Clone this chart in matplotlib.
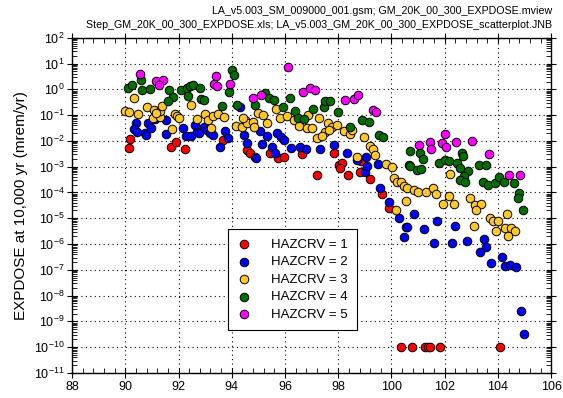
import matplotlib
matplotlib.use('Agg')
import matplotlib.pyplot as plt
from matplotlib.ticker import LogLocator, MultipleLocator, NullFormatter

plt.rcParams['font.family'] = ['Liberation Sans', 'DejaVu Sans']
plt.rcParams['mathtext.fontset'] = 'custom'
plt.rcParams['mathtext.rm'] = 'Liberation Sans'

# HAZCRV = 1
x1 = [90.18, 90.14, 91.71, 91.91, 92.25, 93.67, 94.57, 94.69, 94.88, 95.44, 95.72,
      95.98, 96.63, 97.20, 97.85, 98.01, 98.14, 98.05, 98.36, 98.80, 98.85, 99.20,
      99.66, 99.89, 100.36, 100.78, 101.27, 101.36, 101.43, 101.81, 104.09]
y1 = [1.2e-2, 5.2e-3, 5.8e-3, 8.7e-3, 4.9e-3, 1.1e-2, 4.5e-3, 3.4e-3, 2.3e-3, 3.5e-3, 2.1e-3,
      2.3e-3, 3.2e-3, 4.8e-4, 3.4e-3, 1.2e-3, 1.4e-3, 8.7e-4, 4.6e-4, 6.5e-4, 1.6e-3, 3.3e-4,
      8.9e-5, 2.5e-5, 1e-10, 1e-10, 1e-10, 1e-10, 1e-10, 1e-10, 1e-10]

# HAZCRV = 2
x2 = [90.41, 90.31, 90.43, 90.74, 90.78, 90.87, 90.96, 91.12, 91.53, 91.53, 92.16,
      92.29, 92.46, 92.62, 92.69, 92.77, 92.94, 93.06, 93.19, 93.31, 93.75, 93.84,
      93.54, 94.47, 94.59, 94.32, 95.07, 95.32, 95.15, 95.70, 95.85, 95.98, 95.53,
      95.61, 96.23, 96.55, 96.79, 97.32, 97.85, 98.33, 99.05, 94.92, 98.70, 98.99,
      99.08, 99.48, 99.58, 99.92, 100.27, 100.56, 100.47, 100.86, 101.71, 100.58,
      101.23, 102.38, 101.61, 102.27, 102.84, 103.49, 103.55, 103.31, 103.75,
      104.15, 104.25, 104.47, 104.68, 104.87, 104.99]
y2 = [4.9e-2, 2.9e-2, 2.3e-2, 2.1e-2, 1.7e-2, 5.1e-2, 3.1e-2, 6.9e-2, 6.6e-2, 1.8e-2, 3.3e-2,
      1.5e-2, 1.5e-2, 4.2e-2, 2.3e-2, 2.1e-2, 3.6e-2, 2.7e-2, 2.0e-2, 1.7e-2, 2.5e-2, 1.3e-2,
      5.8e-3, 1.7e-2, 8.1e-3, 2.1e-1, 2.5e-2, 1.6e-2, 7.8e-3, 2.1e-2, 1.4e-2, 1.1e-2, 6.0e-3,
      3.5e-3, 5.2e-3, 5.8e-3, 4.8e-3, 4.8e-3, 7.1e-3, 3.4e-3, 2.3e-3, 2.1e-3, 1.9e-3, 6.2e-4,
      1.1e-3, 1.3e-3, 1.5e-4, 4.1e-5, 1.0e-5, 4.5e-6, 1.9e-6, 1.5e-5, 8.1e-6, 4.4e-6,
      3.8e-6, 5.0e-6, 1.1e-6, 1.1e-6, 1.3e-6, 1.5e-6, 7.6e-7, 4.8e-7, 1.8e-7,
      3.2e-7, 1.4e-7, 1.5e-7, 1.3e-7, 2.6e-9, 3.2e-10]

# HAZCRV = 3
x3 = [90.31, 90.00, 90.15, 90.49, 90.81, 91.08, 91.03, 91.31, 91.31, 91.38, 91.16,
      91.87, 91.96, 92.01, 91.75, 92.47, 92.71, 93.00, 93.12, 93.31, 93.50, 93.71,
      93.23, 94.15, 94.38, 94.50, 94.57, 94.44, 94.78, 95.00, 95.19, 95.32, 94.82,
      95.67, 95.82, 96.07, 96.32, 96.53, 96.82, 97.01, 96.88, 97.29, 97.60, 97.76,
      97.95, 97.51, 97.64, 97.22, 97.39, 98.20, 98.43, 98.52, 98.95, 99.18, 99.30,
      99.39, 98.72, 99.79, 100.02, 100.08, 100.21, 100.36, 100.46, 100.55, 100.18,
      100.58, 100.83, 100.98, 101.30, 101.55, 101.67, 101.92, 102.15, 102.34, 102.21,
      102.94, 103.15, 103.36, 103.19, 103.71, 103.81, 104.00, 103.09, 104.34, 103.94,
      104.25, 104.50, 104.63, 104.36]
y3 = [4.8e-1, 1.5e-1, 1.3e-1, 1.1e-1, 2.0e-1, 1.6e-1, 7.6e-2, 8.3e-2, 1.4e-1, 2.3e-1, 1.2e-1,
      1.1e-1, 8.9e-2, 7.6e-2, 2.9e-2, 2.5e-1, 7.1e-2, 1.1e-1, 6.6e-2, 9.3e-2, 1.1e-1, 8.3e-2,
      3.3e-2, 3.9e-2, 3.6e-2, 6.6e-2, 4.9e-2, 7.6e-2, 5.6e-2, 1.2e-1, 1.0e-1, 4.9e-2, 3.6e-2,
      1.8e-1, 8.1e-2, 8.9e-2, 6.2e-2, 3.9e-2, 3.1e-2, 3.1e-2, 1.0e-1, 8.1e-2, 5.1e-2, 3.6e-2,
      4.2e-2, 2.3e-2, 2.7e-2, 1.3e-2, 1.6e-2, 2.5e-2, 1.9e-2, 2.7e-2, 1.4e-2, 6.5e-3, 4.9e-3,
      2.9e-3, 2.3e-3, 1.3e-3, 1.0e-3, 3.6e-4, 2.5e-4, 2.6e-4, 1.8e-4, 4.7e-5, 2.1e-5,
      1.5e-4, 1.3e-4, 1.0e-4, 1.0e-4, 1.5e-4, 8.9e-5, 3.6e-5, 7.6e-5, 3.6e-5, 5.2e-4,
      6.0e-5, 3.3e-5, 3.6e-5, 2.1e-5, 1.0e-5, 8.1e-6, 8.1e-6, 5.0e-6, 1.5e-5, 3.3e-6,
      4.2e-6, 4.2e-6, 3.3e-6, 2.1e-6]

# HAZCRV = 4
x4 = [90.09, 90.27, 90.59, 90.64, 90.91, 91.66, 91.79, 91.62, 92.10, 92.31, 92.44,
      92.56, 92.81, 92.35, 92.85, 92.94, 93.63, 93.90, 94.00, 94.09, 94.21, 95.26,
      95.41, 95.57, 94.88, 96.17, 95.91, 96.36, 96.47, 96.70, 97.05, 97.45, 97.51,
      97.70, 97.98, 98.45, 98.91, 99.14, 99.55, 99.68, 100.68, 100.64, 100.71, 100.96,
      101.11, 101.08, 101.18, 101.80, 102.00, 102.18, 102.48, 102.56, 102.65, 102.69,
      102.86, 102.71, 102.56, 102.77, 103.30, 103.55, 103.44, 103.61, 103.90, 104.03,
      104.21, 104.59, 104.80, 104.74, 104.94]
y4 = [1.1, 1.5, 2.3, 9.3e-1, 1.0, 9.5e-1, 5.2e-1, 3.4e-1, 9.1e-1, 1.1, 1.4,
      1.5, 1.1, 5.6e-1, 4.3e-1, 3.7e-1, 2.3e-1, 7.8e-1, 5.8, 3.6, 2.5e-1, 7.1e-1,
      4.6e-1, 3.7e-1, 2.5e-1, 4.6e-1, 2.1e-1, 1.5e-1, 8.1e-2, 7.2e-2, 1.7e-1, 2.0e-1, 3.4e-1,
      3.4e-1, 1.3e-1, 3.4e-2, 6.6e-2, 5.6e-2, 1.7e-2, 1.4e-2, 3.9e-3, 1.2e-3, 1.1e-3, 7.6e-4,
      7.9e-4, 3.5e-3, 2.0e-3, 1.4e-3, 1.9e-3, 1.7e-3, 1.4e-3, 9.3e-4, 3.5e-3, 2.6e-3,
      7.1e-4, 4.2e-4, 3.1e-4, 2.5e-4, 1.2e-3, 1.2e-3, 2.6e-4, 2.0e-4, 2.3e-4, 3.9e-4,
      2.6e-4, 2.3e-4, 9.3e-5, 6.3e-5, 2.0e-5]

# HAZCRV = 5
x5 = [90.56, 91.17, 91.43, 91.26, 93.39, 93.35, 93.44, 93.94, 96.11, 94.78, 95.09,
      96.67, 96.95, 97.14, 98.24, 98.60, 98.76, 99.30, 99.42, 102.02, 101.02, 101.46,
      101.50, 101.90, 102.06, 102.44, 103.03, 103.65, 104.43, 104.82]
y5 = [3.9, 2.1, 2.3, 1.5, 3.2, 1.6, 1.3, 1.6, 7.2, 4.6e-1, 6.2e-1,
      7.6e-1, 1.1, 9.5e-1, 3.9e-1, 4.3e-1, 5.8e-1, 1.6e-1, 1.3e-1, 1.8e-2, 7.1e-3, 8.9e-3,
      4.9e-3, 8.1e-3, 5.8e-3, 8.9e-3, 1.0e-2, 3.0e-3, 4.6e-4, 4.6e-4]

groups = [(x1, y1, '#ff0000', 'HAZCRV = 1'),
          (x2, y2, '#0000ff', 'HAZCRV = 2'),
          (x3, y3, '#ffc828', 'HAZCRV = 3'),
          (x4, y4, '#006e00', 'HAZCRV = 4'),
          (x5, y5, '#ff00ff', 'HAZCRV = 5')]

fig = plt.figure(figsize=(5.63, 3.98), dpi=100)
ax = fig.add_axes([0.128, 0.063, 0.851, 0.842])

for xs, ys, c, lab in groups:
    ax.scatter(xs, ys, s=38, c=c, edgecolors='black', linewidths=0.7, label=lab, zorder=3)

ax.set_yscale('log')
ax.set_xlim(88, 106)
ax.set_ylim(1e-11, 1e2)
ax.xaxis.set_major_locator(MultipleLocator(2))
ax.xaxis.set_minor_locator(MultipleLocator(0.4))
ax.yaxis.set_major_locator(LogLocator(base=10, numticks=30))
ax.yaxis.set_minor_locator(LogLocator(base=10, subs=range(2, 10), numticks=30))
ax.yaxis.set_minor_formatter(NullFormatter())

ax.grid(True, which='major', linestyle=(0, (1, 3)), color='black', linewidth=0.8)
ax.tick_params(which='major', direction='inout', length=7, width=0.8, labelsize=9,
               top=True, right=True, pad=2)
ax.tick_params(which='minor', direction='in', length=3.5, width=0.6, top=True, right=True)
for sp in ax.spines.values():
    sp.set_linewidth(1.0)

ax.set_ylabel('EXPDOSE at 10,000 yr (mrem/yr)', fontsize=11, labelpad=4)

leg = ax.legend(loc='center', bbox_to_anchor=(0.460, 0.278), fontsize=9.5,
                frameon=True, fancybox=False, edgecolor='black', framealpha=1,
                handlelength=1.0, handletextpad=1.6, labelspacing=0.4,
                borderpad=0.7, borderaxespad=0)
leg.get_frame().set_linewidth(0.8)

fig.text(0.98, 0.985, 'LA_v5.003_SM_009000_001.gsm; GM_20K_00_300_EXPDOSE.mview',
         ha='right', va='top', fontsize=7.7)
fig.text(0.98, 0.95, 'Step_GM_20K_00_300_EXPDOSE.xls; LA_v5.003_GM_20K_00_300_EXPDOSE_scatterplot.JNB',
         ha='right', va='top', fontsize=7.7)

fig.savefig('out.png', dpi=100)
